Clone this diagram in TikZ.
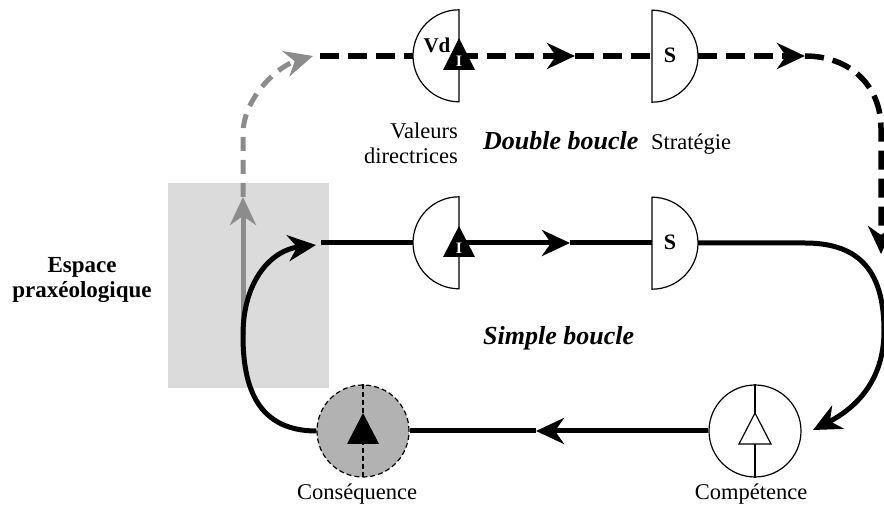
\documentclass[tikz,border=0pt]{standalone}
\usepackage{fontspec}
\setmainfont{Liberation Serif}
\usetikzlibrary{arrows.meta}

\begin{document}
\begin{tikzpicture}[x=1pt,y=1pt,
  sline/.style={line width=5pt},
  dline/.style={line width=5.5pt,dash pattern=on 19pt off 9pt},
  gline/.style={line width=5pt,draw=black!45},
  arr/.style={-{Stealth[length=28pt,width=26pt,inset=9pt]}},
  sym/.style={circle,minimum size=92pt,inner sep=0pt},
  edge/.style={line width=1.2pt},
  txt/.style={font=\fontsize{22.5}{25}\selectfont,inner sep=0pt},
  big/.style={font=\bfseries\itshape\fontsize{26}{28}\selectfont,inner sep=0pt}]
\useasboundingbox (0,0) rectangle (884,506);

% espace praxeologique
\fill[black!14] (168,118) rectangle (329,323);

\node[sym] (vd) at (459,450) {};
\node[sym] (stop) at (652,450) {};
\node[sym] (i) at (459,263) {};
\node[sym] (s) at (652,263) {};
\node[sym,draw,edge,fill=black!30,dash pattern=on 5pt off 3pt] (cons) at (363,75) {};
\node[sym,draw,edge,fill=white] (comp) at (755,75) {};

\coordinate (g0) at (243,171);
\coordinate (g1) at (243,309);
\coordinate (g2) at (313,450);
\coordinate (t1) at (575,450);
\coordinate (t2) at (805,450);
\coordinate (t3) at (881,252);
\coordinate (m0) at (321,263);
\coordinate (m1) at (570,263);
\coordinate (m2) at (805,263);
\coordinate (c1) at (813,76);
\coordinate (b1) at (536,75);
\coordinate (l1) at (316,261);

% gray way up
\draw[gline,arr] (g0) -- (g1);
\draw[gline,arr,dash pattern=on 14pt off 9pt] (g1) -- (243,372) .. controls (243,408) and (278,440) .. (g2);

% double boucle
\draw[dline] ([xshift=7pt]g2) -- (vd.west);
\draw[dline,arr] (vd.center) -- (t1);
\draw[dline] (t1) -- (stop.center);
\draw[dline,arr] (stop.east) -- (t2);
\draw[dline,arr] (t2) .. controls (850,450) and (881,420) .. (881,378) -- (t3);

% simple boucle
\draw[sline] (m0) -- (i.west);
\draw[sline,arr] (i.center) -- (m1);
\draw[sline] (m1) -- (s.center);
\draw[sline,arr] (s.east) -- (m2) .. controls (862,263) and (884,232) .. (884,175) .. controls (884,122) and (852,96) .. (c1);
\draw[sline,arr] (comp.west) -- (b1);
\draw[sline] (b1) -- (cons.east);
\draw[sline,arr] (cons.west) .. controls (252,75) and (243,128) .. (243,171) .. controls (243,226) and (272,256) .. (l1);

% half symbols
\filldraw[fill=white,edge] (vd.north) arc[start angle=90,end angle=270,radius=46pt] -- cycle;
\filldraw[fill=white,edge] (i.north) arc[start angle=90,end angle=270,radius=46pt] -- cycle;
\filldraw[fill=white,edge] (stop.south) arc[start angle=-90,end angle=90,radius=46pt] -- cycle;
\filldraw[fill=white,edge] (s.south) arc[start angle=-90,end angle=90,radius=46pt] -- cycle;
\fill (vd) ++(-16,-14) -- ++(32,0) -- ++(-16,32) -- cycle;
\fill (i) ++(-16,-14) -- ++(32,0) -- ++(-16,31) -- cycle;
\node[font=\bfseries\fontsize{16}{16}\selectfont,text=white,inner sep=0pt] (vdi) at ([yshift=-5pt]vd.center) {I};
\node[font=\bfseries\fontsize{16}{16}\selectfont,text=white,inner sep=0pt] (ii) at ([yshift=-5pt]i.center) {I};
\node[font=\bfseries\fontsize{21}{21}\selectfont,inner sep=0pt,anchor=base] (vdt) at (437,453) {Vd};
\node[font=\bfseries\fontsize{22}{22}\selectfont,inner sep=0pt,anchor=base] (stopt) at (670,443) {S};
\node[font=\bfseries\fontsize{22}{22}\selectfont,inner sep=0pt,anchor=base] (st) at (670,256) {S};

% round symbols
\draw[edge,dash pattern=on 5pt off 3pt] (cons.north) -- (cons.south);
\fill (cons) ++(-16,-13) -- ++(32,0) -- ++(-16,31) -- cycle;
\draw[edge] (comp.north) -- (comp.south);
\filldraw[fill=white,edge] (comp) ++(-16,-13) -- ++(32,0) -- ++(-16,31) -- cycle;

% texts
\node[font=\bfseries\fontsize{23}{25}\selectfont,align=center,inner sep=0pt,anchor=base] (esp) at (82,208) {Espace\\praxéologique};
\node[txt,align=right,anchor=north east] (val) at (458,383) {Valeurs\\directrices};
\node[big,anchor=base west] (dbl) at (483,356) {Double boucle};
\node[txt,anchor=base west] (strat) at (651,356) {Stratégie};
\node[big,anchor=base west] (smp) at (483,161) {Simple boucle};
\node[txt,anchor=base] (const) at (357,6) {Conséquence};
\node[txt,anchor=base] (compt) at (751,6) {Compétence};

\end{tikzpicture}
\end{document}
